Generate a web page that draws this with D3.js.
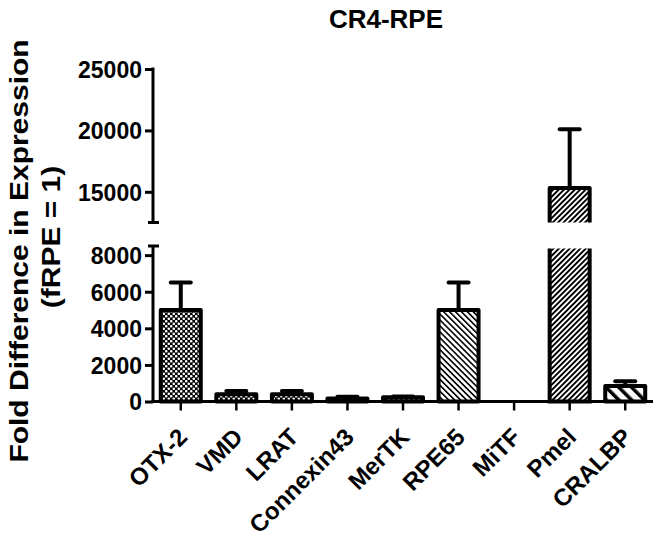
<!DOCTYPE html>
<html><head><meta charset="utf-8">
<script src="https://cdn.jsdelivr.net/npm/d3@7"></script>
<style>body{margin:0;background:#fff}svg{display:block}text{font-family:"Liberation Sans",Arial,sans-serif;font-weight:bold;fill:#000}</style>
</head><body>
<script>
const categories = ["OTX-2","VMD","LRAT","Connexin43","MerTK","RPE65","MiTF","Pmel","CRALBP"];
const values = [5000, 400, 400, 170, 230, 5000, 0, 15300, 850];
const errors = [1500, 170, 170, 90, 40, 1500, 0, 4800, 260];
const patterns = ["check","check","check","check","check","back","none","fwd","wideback"];
const lowerTicks = [0, 2000, 4000, 6000, 8000];
const upperTicks = [15000, 20000, 25000];
const lowerDomain = [0, 8500];
const upperDomain = [12500, 25000];
const title = "CR4-RPE";
const yLabel1 = "Fold Difference in Expression";
const yLabel2 = "(fRPE = 1)";

const W = 660, H = 539;
const axisX = 153, axisRight = 653;
const svg = d3.select("body").append("svg").attr("width", W).attr("height", H);
const defs = svg.append("defs");

const pc = defs.append("pattern").attr("id","check").attr("patternUnits","userSpaceOnUse").attr("width",5).attr("height",5);
pc.append("rect").attr("width",5).attr("height",5).attr("fill","#000");
pc.append("circle").attr("cx",1.25).attr("cy",1.25).attr("r",1.3).attr("fill","#fff");
pc.append("circle").attr("cx",3.75).attr("cy",3.75).attr("r",1.3).attr("fill","#fff");

function stripes(id, size, sw, dir) {
  const p = defs.append("pattern").attr("id", id).attr("patternUnits","userSpaceOnUse")
    .attr("width", size).attr("height", size)
    .attr("patternTransform", "rotate(" + (dir === "back" ? -45 : 45) + ")");
  p.append("rect").attr("width", size).attr("height", size).attr("fill","#fff");
  p.append("rect").attr("x",0).attr("y",0).attr("width", sw).attr("height", size).attr("fill","#000");
}
stripes("back", 4.2, 1.6, "back");
stripes("fwd", 3.8, 1.9, "fwd");
stripes("wideback", 9, 3.5, "back");

const x = d3.scaleBand().domain(categories).range([axisX, axisRight]).paddingInner(0.28).paddingOuter(0.14);
const yLow = d3.scaleLinear().domain(lowerDomain).range([401.5, 246]);
const yUp = d3.scaleLinear().domain(upperDomain).range([222.5, 69]);

const data = categories.map((c, i) => ({c, v: values[i], e: errors[i], p: patterns[i]}));
const bw = x.bandwidth();
const g = svg.append("g");

data.forEach(d => {
  if (d.v <= 0) return;
  const x0 = x(d.c), fill = d.p === "none" ? "#fff" : "url(#" + d.p + ")";
  if (d.v <= lowerDomain[1]) {
    const yt = yLow(d.v);
    g.append("rect").attr("x", x0).attr("y", yt).attr("width", bw).attr("height", yLow(0) - yt)
      .attr("fill", fill).attr("stroke","#000").attr("stroke-width",4).attr("stroke-linejoin","round");
    if (d.e > 0) {
      const ye = yLow(d.v + d.e), cx = x0 + bw/2;
      g.append("line").attr("x1",cx).attr("x2",cx).attr("y1",yt).attr("y2",ye).attr("stroke","#000").attr("stroke-width",4);
      g.append("line").attr("x1",cx-10).attr("x2",cx+10).attr("y1",ye).attr("y2",ye).attr("stroke","#000").attr("stroke-width",4).attr("stroke-linecap","round");
    }
  } else {
    const yb = yLow(0), yt = yLow(lowerDomain[1]) + 2.5;
    g.append("rect").attr("x", x0).attr("y", yt).attr("width", bw).attr("height", yb - yt).attr("fill", fill);
    g.append("path").attr("d", `M${x0},${yt}V${yb}H${x0+bw}V${yt}`).attr("fill","none").attr("stroke","#000").attr("stroke-width",4);
    const ut = yUp(d.v), ub = yUp(upperDomain[0]);
    g.append("rect").attr("x", x0).attr("y", ut).attr("width", bw).attr("height", ub - ut).attr("fill", fill);
    g.append("path").attr("d", `M${x0},${ub}V${ut}H${x0+bw}V${ub}`).attr("fill","none").attr("stroke","#000").attr("stroke-width",4).attr("stroke-linejoin","round");
    const ye = yUp(d.v + d.e), cx = x0 + bw/2;
    g.append("line").attr("x1",cx).attr("x2",cx).attr("y1",ut).attr("y2",ye).attr("stroke","#000").attr("stroke-width",4);
    g.append("line").attr("x1",cx-10).attr("x2",cx+10).attr("y1",ye).attr("y2",ye).attr("stroke","#000").attr("stroke-width",4).attr("stroke-linecap","round");
  }
});

function styleAxis(sel) {
  sel.selectAll("path.domain").remove();
  sel.selectAll(".tick line").attr("stroke","#000").attr("stroke-width",3);
  sel.selectAll(".tick text").style("font-size","23px").style("font-weight","bold").attr("fill","#000").attr("dy","0.36em");
}
const gl = svg.append("g").attr("transform", `translate(${axisX},0)`)
  .call(d3.axisLeft(yLow).tickValues(lowerTicks).tickSize(8).tickPadding(3).tickFormat(d3.format("d")));
styleAxis(gl);
const gu = svg.append("g").attr("transform", `translate(${axisX},0)`)
  .call(d3.axisLeft(yUp).tickValues(upperTicks).tickSize(8).tickPadding(3).tickFormat(d3.format("d")));
styleAxis(gu);

svg.append("line").attr("x1",axisX).attr("x2",axisX).attr("y1",yLow(0)).attr("y2",yLow(lowerDomain[1])).attr("stroke","#000").attr("stroke-width",3);
svg.append("line").attr("x1",axisX-5).attr("x2",axisX+6).attr("y1",yLow(lowerDomain[1])).attr("y2",yLow(lowerDomain[1])).attr("stroke","#000").attr("stroke-width",3);
svg.append("line").attr("x1",axisX).attr("x2",axisX).attr("y1",yUp(upperDomain[0])).attr("y2",yUp(upperDomain[1])-1.5).attr("stroke","#000").attr("stroke-width",3);
svg.append("line").attr("x1",axisX-5).attr("x2",axisX+6).attr("y1",yUp(upperDomain[0])).attr("y2",yUp(upperDomain[0])).attr("stroke","#000").attr("stroke-width",3);

const gx = svg.append("g").attr("transform", `translate(0,${yLow(0)})`)
  .call(d3.axisBottom(x).tickSize(9).tickFormat(""));
gx.select("path.domain").remove();
gx.selectAll(".tick line").attr("stroke","#000").attr("stroke-width",2.5);
svg.append("line").attr("x1",axisX-1.5).attr("x2",axisRight).attr("y1",yLow(0)).attr("y2",yLow(0)).attr("stroke","#000").attr("stroke-width",3);

svg.append("g").selectAll("text").data(categories).join("text")
  .attr("transform", d => `translate(${x(d) + bw/2 + 8},${yLow(0) + 37}) rotate(-45)`)
  .attr("text-anchor","end")
  .style("font-size","24px").text(d => d);

svg.append("text").attr("x", 386).attr("y", 28).attr("text-anchor","middle").style("font-size","26px").text(title);

svg.append("text").attr("transform","translate(28,251) scale(0.85,1) rotate(-90)").attr("text-anchor","middle").style("font-size","30px").text(yLabel1);
svg.append("text").attr("transform","translate(60,237) scale(0.85,1) rotate(-90)").attr("text-anchor","middle").style("font-size","30px").text(yLabel2);
</script>
</body></html>
